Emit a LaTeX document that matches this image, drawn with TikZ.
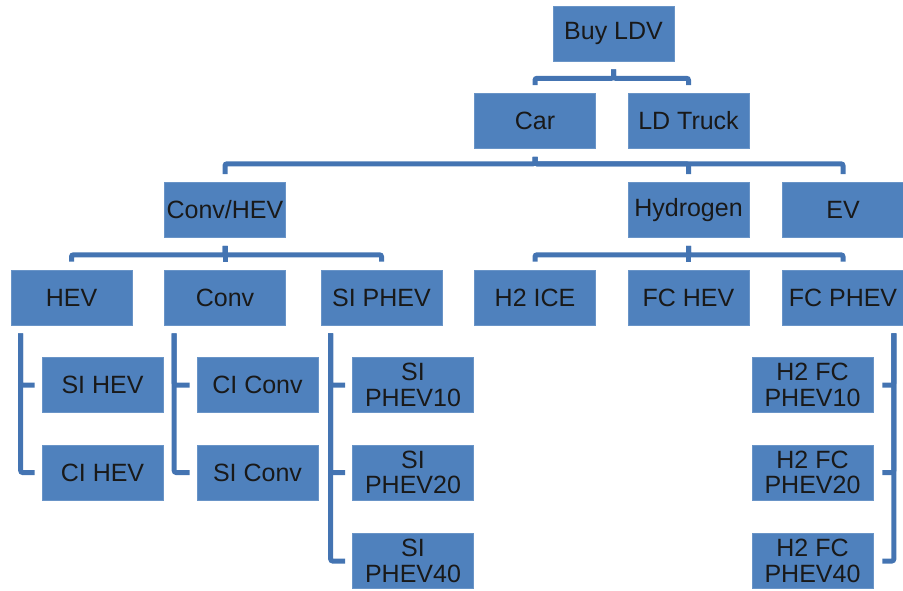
\documentclass[tikz,border=0pt]{standalone}
\usepackage{fontspec}
\setmainfont{Liberation Sans}
\usepackage{xcolor}
\usepackage{tikz}
\usetikzlibrary{calc}

\definecolor{boxblue}{RGB}{79,129,189}
\definecolor{linkblue}{RGB}{68,116,178}

\begin{document}
\begin{tikzpicture}[x=1pt, y=-1pt,
    box/.style={fill=boxblue, draw=boxblue!85!white, line width=0.6pt,
        minimum width=121pt, minimum height=55pt, inner sep=1pt,
        align=center, text=black!90, font=\fontsize{25}{25.5}\selectfont},
    link/.style={draw=linkblue, line width=5pt, rounded corners=2pt,
        shorten <=8pt, shorten >=8pt}]
    \useasboundingbox (0,0) rectangle (903,590);
    % top levels
    \node[box] (buy) at (613.5,33.5) {Buy LDV};
    \foreach \n/\x/\y/\t in {car/535/121/Car, ldtruck/688.5/121/LD Truck,
        convhev/225/210/{Conv/HEV}, hydrogen/688.5/210/Hydrogen, ev/843/210/EV} {
        \node[box] (\n) at (\x,\y) {\t};
    }
    % third row
    \foreach \n/\x/\t in {hev/71.5/HEV, conv/225/Conv, siphev/381.5/SI PHEV,
        htwoice/535/H2 ICE, fchev/688.5/FC HEV, fcphev/843/FC PHEV} {
        \node[box] (\n) at (\x,297.5) {\t};
    }
    % fourth row
    \foreach \n/\x/\y/\t in {sihev/102.5/385/SI HEV, cihev/102.5/472.5/CI HEV,
        ciconv/257.5/385/CI Conv, siconv/257.5/472.5/SI Conv,
        siphevten/413/385/{SI\\PHEV10}, siphevtwenty/413/472.5/{SI\\PHEV20},
        siphevforty/413/561/{SI\\PHEV40},
        fcphevten/812.5/385/{H2 FC\\PHEV10}, fcphevtwenty/812.5/472.5/{H2 FC\\PHEV20},
        fcphevforty/812.5/561/{H2 FC\\PHEV40}} {
        \node[box] (\n) at (\x,\y) {\t};
    }
    % links down the tree
    \foreach \c in {car,ldtruck}
        \draw[link] (buy.south) -- ++(0,17) -| (\c.north);
    \foreach \c in {convhev,hydrogen,ev}
        \draw[link] (car.south) -- ++(0,15) -| (\c.north);
    \foreach \c in {hev,conv,siphev}
        \draw[link] (convhev.south) -- ++(0,17) -| (\c.north);
    \foreach \c in {htwoice,fchev,fcphev}
        \draw[link] (hydrogen.south) -- ++(0,17) -| (\c.north);
    % hanging links
    \foreach \p/\c in {hev/sihev, hev/cihev, conv/ciconv, conv/siconv,
        siphev/siphevten, siphev/siphevtwenty, siphev/siphevforty}
        \draw[link, shorten >=7pt] ([xshift=10pt]\p.south west) |- (\c.west);
    \foreach \c in {fcphevten,fcphevtwenty,fcphevforty}
        \draw[link, shorten >=9pt] ([xshift=-10pt]fcphev.south east) |- (\c.east);
\end{tikzpicture}
\end{document}
